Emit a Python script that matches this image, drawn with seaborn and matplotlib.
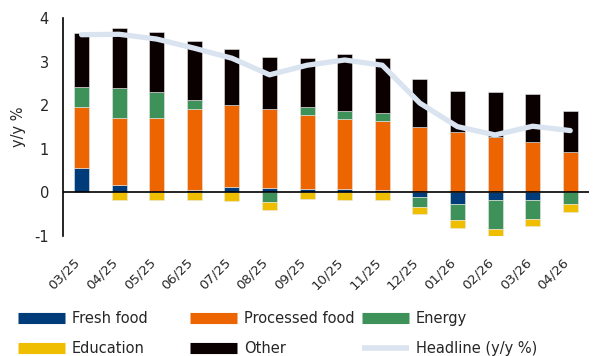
import matplotlib
matplotlib.use("Agg")
import matplotlib.pyplot as plt
import matplotlib.transforms as mtransforms
from matplotlib.lines import Line2D
import numpy as np
import pandas as pd
import seaborn as sns

# data
months = ["03/25", "04/25", "05/25", "06/25", "07/25", "08/25", "09/25",
          "10/25", "11/25", "12/25", "01/26", "02/26", "03/26", "04/26"]
fresh_food = [0.55, 0.16, 0.01, 0.06, 0.13, 0.11, 0.08, 0.08, 0.06, -0.11, -0.27, -0.18, -0.18, 0.0]
processed_food = [1.40, 1.56, 1.71, 1.85, 1.87, 1.80, 1.70, 1.61, 1.57, 1.50, 1.39, 1.28, 1.16, 0.93]
energy = [0.46, 0.68, 0.58, 0.21, 0.0, -0.22, 0.17, 0.17, 0.19, -0.22, -0.37, -0.65, -0.42, -0.27]
education = [0.0, -0.18, -0.18, -0.17, -0.19, -0.19, -0.16, -0.18, -0.18, -0.16, -0.18, -0.17, -0.17, -0.19]
other = [1.25, 1.38, 1.38, 1.35, 1.30, 1.20, 1.13, 1.32, 1.26, 1.10, 0.94, 1.03, 1.11, 0.94]
headline = [3.62, 3.63, 3.52, 3.31, 3.08, 2.70, 2.92, 3.04, 2.92, 2.05, 1.51, 1.32, 1.52, 1.42]

series = [("Fresh food", fresh_food, "#003b7a"),
          ("Processed food", processed_food, "#ec6500"),
          ("Energy", energy, "#3f915a"),
          ("Education", education, "#f0be00"),
          ("Other", other, "#0a0000")]
line_color = "#dae3f0"

sns.set_theme(style="white")
plt.rcParams["font.family"] = ["DejaVu Sans"]

fig = plt.figure(figsize=(5.98, 3.56), dpi=100)
ax = fig.add_axes([0.105, 0.337, 0.88, 0.612])

x = np.arange(len(months))
pos_base = np.zeros(len(months))
neg_base = np.zeros(len(months))
for name, vals, col in series:
    v = np.array(vals)
    bottom = np.where(v >= 0, pos_base, neg_base)
    ax.bar(x, v, width=0.4, bottom=bottom, color=col, edgecolor="#e8e8e8",
           linewidth=0.4, zorder=2)
    pos_base += np.where(v >= 0, v, 0)
    neg_base += np.where(v < 0, v, 0)

ax.axhline(0, color="black", linewidth=1.2, zorder=3)

df = pd.DataFrame({"x": x, "headline": headline})
sns.lineplot(data=df, x="x", y="headline", ax=ax, color=line_color,
             linewidth=3.8, zorder=4, solid_capstyle="round", solid_joinstyle="round")

ax.set_xlim(-0.5, 13.5)
ax.set_ylim(-1, 4)
ax.set_yticks([-1, 0, 1, 2, 3, 4])
ax.set_yticklabels(["-1", "0", "1", "2", "3", "4"], fontsize=10.5)
ax.set_xticks(x)
ax.set_xticklabels(months, rotation=45, ha="right", rotation_mode="anchor", fontsize=9.5)
ax.tick_params(axis="both", length=0)
ax.tick_params(axis="y", pad=10)
ax.tick_params(axis="x", pad=14)
shift = mtransforms.ScaledTranslation(-8 / 100, 0, fig.dpi_scale_trans)
for lbl in ax.get_xticklabels():
    lbl.set_transform(lbl.get_transform() + shift)
ax.set_xlabel("")
ax.set_ylabel("y/y %", fontsize=10.5, labelpad=6)
for s in ["top", "right", "bottom"]:
    ax.spines[s].set_visible(False)
ax.spines["left"].set_color("black")
ax.spines["left"].set_linewidth(1.2)

# legend: three columns placed at even spacing
def handle(col, lw=8):
    return Line2D([0], [0], color=col, linewidth=lw, solid_capstyle="butt")

groups = [
    [("Fresh food", "#003b7a", 8), ("Education", "#f0be00", 8)],
    [("Processed food", "#ec6500", 8), ("Other", "#0a0000", 8)],
    [("Energy", "#3f915a", 8), ("Headline (y/y %)", line_color, 4)],
]
for i, grp in enumerate(groups):
    fig.legend([handle(c, lw) for _, c, lw in grp], [n for n, _, _ in grp],
               loc="upper left", bbox_to_anchor=(0.03 + i * 0.2876, 0.126),
               frameon=False, fontsize=10.5, handlelength=3.2, handletextpad=0.5,
               labelspacing=1.0, borderaxespad=0, borderpad=0)

fig.savefig("out.png", dpi=100)
